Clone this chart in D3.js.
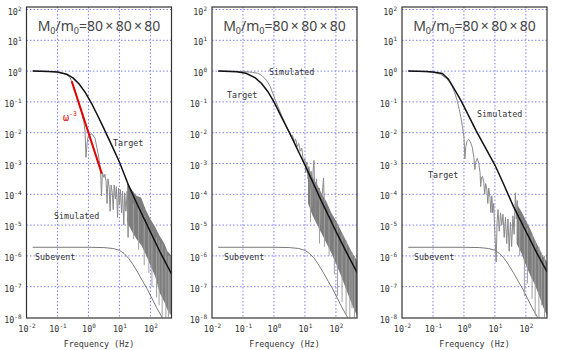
<!DOCTYPE html>
<html>
<head>
<script src="https://d3js.org/d3.v7.min.js"></script>
<style>
  body { margin: 0; background: #fff; }
  svg { display: block; }
  .lbl { font-family: "DejaVu Sans Mono", monospace; font-size: 8.4px; fill: #333; }
  .grid line { stroke: #7f7fff; stroke-dasharray: 1.5,2; stroke-width: 1; }
</style>
</head>
<body>
<svg id="chart" width="567" height="350"></svg>
<script>
// every reading below is in decades: [log10 frequency (Hz), log10 amplitude]
const xTickExps = [-2, -1, 0, 1, 2];
const yTickExps = [2, 1, 0, -1, -2, -3, -4, -5, -6, -7, -8];
const curveNames = ["Target", "Simulated", "Subevent"];
const xTitle = "Frequency (Hz)";

// subevent spectrum, same in all three panels
const subevent = [[-1.8,-5.72],[-1,-5.72],[0,-5.72],[0.5,-5.73],[0.8,-5.76],[1.0,-5.82],[1.15,-5.92],
  [1.3,-6.08],[1.45,-6.3],[1.6,-6.55],[1.75,-6.82],[1.9,-7.08],[2.05,-7.38],[2.2,-7.68],[2.38,-8.0]];

// panel 1
const target1 = [[-1.8,0],[-1.3,-0.01],[-1.0,-0.03],[-0.7,-0.1],[-0.5,-0.22],[-0.3,-0.42],[-0.1,-0.7],
  [0.1,-1.05],[0.3,-1.45],[0.5,-1.87],[0.7,-2.3],[1.0,-2.95],[1.3,-3.72],[1.6,-4.38],[2.0,-5.22],[2.3,-5.85],[2.69,-6.6]];
const sim1 = [[-1.8,0],[-1.3,-0.01],[-1.0,-0.03],[-0.75,-0.09],[-0.6,-0.2],[-0.5,-0.42],[-0.35,-0.9],[-0.22,-1.35],
  [-0.15,-1.65],[-0.11,-1.95],[-0.08,-2.8],[-0.04,-2.3],[-0.01,-2.12],[0.1,-2.03],[0.21,-2.18],[0.32,-2.72],[0.39,-3.2],
  [0.42,-4.05],[0.45,-3.3],[0.5,-3.45],[0.53,-3.35],[0.57,-3.6],[0.6,-4.3],[0.63,-3.5],[0.67,-3.8],[0.7,-4.55],[0.73,-3.7],
  [0.77,-3.95],[0.8,-4.5],[0.83,-3.7],[0.87,-4.15],[0.9,-3.75],[0.94,-4.75],[0.97,-3.8],[1.0,-4.35],[1.03,-3.85],
  [1.07,-4.6],[1.1,-3.9],[1.14,-5.0],[1.17,-3.95],[1.21,-4.55],[1.25,-3.9],[1.28,-5.4],[1.3,-4.2]];
const band1 = [[1.25,-4.9,-3.65],[1.4,-5.2,-3.85],[1.55,-5.45,-4.05],[1.7,-5.65,-4.1],[1.85,-5.95,-4.5],[2.0,-6.3,-4.8],
  [2.15,-6.65,-5.05],[2.3,-7.2,-5.35],[2.45,-7.5,-5.6],[2.55,-7.75,-5.85],[2.69,-7.95,-6.0]];
const spikes1 = [[1.45,-4.3,-5.45],[1.62,-4.4,-5.8],[1.8,-4.7,-6.3],[1.95,-5.0,-6.55],[2.05,-5.2,-7.0],[2.2,-5.4,-7.35],
  [2.28,-5.5,-7.6],[2.38,-5.6,-8.0],[2.5,-5.8,-8.0],[2.58,-6.0,-8.0],[2.63,-6.0,-7.9]];
const omega3 = [[-0.54,-0.33],[0.43,-3.33]];

// panel 2
const target2 = [[-1.8,0],[-1.2,-0.02],[-0.9,-0.07],[-0.6,-0.22],[-0.4,-0.4],[-0.2,-0.66],[0,-1.0],[0.25,-1.5],
  [0.5,-2.0],[1.0,-3.05],[1.5,-4.15],[2.0,-5.2],[2.35,-5.9],[2.69,-6.55]];
const sim2 = [[-1.8,0],[-1.2,-0.01],[-0.9,-0.02],[-0.7,-0.04],[-0.52,-0.07],[-0.38,-0.15],[-0.24,-0.3],[-0.12,-0.5],
  [-0.04,-0.72],[0.05,-0.95],[0.25,-1.45],[0.4,-1.8],[0.5,-2.0],[0.55,-2.12],[0.6,-2.08],[0.65,-2.3],[0.7,-2.2],
  [0.75,-2.45],[0.8,-2.35],[0.85,-2.6],[0.9,-2.5],[0.95,-2.95],[1.0,-2.85],[1.03,-3.3],[1.06,-2.95],[1.1,-3.5],
  [1.13,-3.1],[1.17,-3.85],[1.2,-3.25],[1.23,-4.4],[1.26,-3.3],[1.29,-2.9],[1.31,-3.6],[1.34,-4.8],[1.37,-3.5],
  [1.42,-4.2],[1.47,-3.8],[1.52,-5.0],[1.56,-4.0],[1.6,-3.47],[1.63,-4.4]];
const band2 = [[1.1,-4.3,-3.1],[1.25,-4.7,-3.45],[1.4,-5.0,-3.7],[1.55,-5.3,-4.0],[1.7,-5.6,-4.25],[1.85,-5.9,-4.6],
  [2.0,-6.25,-4.85],[2.15,-6.6,-5.15],[2.3,-7.0,-5.45],[2.45,-7.4,-5.75],[2.55,-7.65,-5.95],[2.69,-7.95,-6.15]];
const spikes2 = [[1.18,-3.5,-4.9],[1.47,-4.0,-5.6],[1.63,-4.3,-5.7],[1.78,-4.6,-6.0],[1.95,-4.9,-6.6],[2.05,-5.0,-7.3],
  [2.2,-5.3,-7.5],[2.33,-5.5,-7.9],[2.45,-5.8,-8.0],[2.52,-5.9,-7.7],[2.6,-6.0,-8.0]];

// panel 3
const target3 = [[-1.8,0],[-1.2,-0.01],[-1.0,-0.03],[-0.7,-0.08],[-0.5,-0.26],[-0.3,-0.6],[-0.1,-0.95],[0.1,-1.35],
  [0.4,-1.95],[0.7,-2.5],[1.0,-3.05],[1.25,-3.6],[1.6,-4.4],[2.0,-5.2],[2.35,-5.9],[2.69,-6.53]];
const sim3 = [[-1.8,0],[-1.2,-0.02],[-1.0,-0.04],[-0.75,-0.1],[-0.55,-0.25],[-0.45,-0.38],[-0.38,-0.5],[-0.3,-0.7],
  [-0.22,-0.95],[-0.15,-1.25],[-0.1,-1.5],[-0.05,-1.8],[0.0,-2.13],[0.03,-2.85],[0.06,-2.45],[0.1,-2.28],[0.15,-2.22],
  [0.21,-2.3],[0.27,-2.48],[0.32,-2.8],[0.35,-3.2],[0.38,-2.95],[0.43,-2.83],[0.48,-3.0],[0.52,-3.3],[0.54,-3.75],
  [0.57,-3.45],[0.6,-3.42],[0.64,-3.6],[0.67,-4.0],[0.7,-3.65],[0.74,-3.85],[0.77,-4.3],[0.8,-3.8],[0.84,-4.1],
  [0.87,-4.6],[0.9,-4.05],[0.93,-4.6],[0.96,-4.3],[1.0,-5.3],[1.04,-6.2],[1.07,-4.9],[1.1,-4.5],[1.14,-5.2],
  [1.18,-4.6],[1.22,-5.0],[1.26,-4.65],[1.3,-5.4],[1.34,-4.75],[1.38,-5.6],[1.42,-4.8],[1.46,-5.85],[1.5,-4.9],
  [1.54,-5.7],[1.58,-4.7],[1.62,-5.3],[1.66,-3.95],[1.69,-4.8],[1.72,-4.2],[1.76,-5.4]];
const band3 = [[1.7,-5.6,-4.3],[1.85,-5.9,-4.55],[2.0,-6.3,-4.85],[2.15,-6.65,-5.15],[2.3,-6.95,-5.5],
  [2.45,-7.35,-5.8],[2.55,-7.65,-6.0],[2.69,-7.95,-6.2]];
const spikes3 = [[1.8,-4.7,-6.0],[1.95,-5.0,-7.3],[2.05,-5.1,-6.9],[2.2,-5.3,-7.4],[2.3,-5.5,-7.95],[2.42,-5.7,-8.0],
  [2.5,-5.9,-7.6],[2.6,-6.0,-8.0]];

// layout
const plotW = 145, yTop = 9.5, yBot = 317.5, frameTop = 7, frameBot = 318;
const panels = [
  { left: 26.5, target: target1, sim: sim1, band: band1, spikes: spikes1, red: omega3,
    labelXY: { Target: [113, 146], Simulated: [54, 219], Subevent: [35, 260] }, redXY: [63, 121] },
  { left: 212, target: target2, sim: sim2, band: band2, spikes: spikes2,
    labelXY: { Target: [227, 98], Simulated: [269, 75], Subevent: [224, 260] } },
  { left: 402, target: target3, sim: sim3, band: band3, spikes: spikes3,
    labelXY: { Target: [428, 178], Simulated: [477, 117], Subevent: [414, 260] } }
];

const svg = d3.select("#chart");
const p10 = v => Math.pow(10, v);

function supLabel(text, exp) {
  text.text(null);
  text.append("tspan").text("10");
  text.append("tspan").attr("dy", -4).attr("font-size", "6px").text(exp);
}

panels.forEach((p, i) => {
  const x = d3.scaleLog().domain([0.01, 480]).range([p.left, p.left + plotW]);
  const y = d3.scaleLog().domain([1e-8, 1e2]).range([yBot, yTop]);
  const g = svg.append("g");

  g.append("clipPath").attr("id", "clip" + i)
    .append("rect").attr("x", p.left).attr("y", frameTop).attr("width", plotW).attr("height", frameBot - frameTop);

  // grid
  const grid = g.append("g").attr("class", "grid");
  grid.selectAll(".gx").data(xTickExps.slice(1)).enter().append("line")
    .attr("x1", d => x(p10(d))).attr("x2", d => x(p10(d)))
    .attr("y1", frameTop).attr("y2", frameBot);
  grid.selectAll(".gy").data(yTickExps.slice(0, -1)).enter().append("line")
    .attr("x1", p.left).attr("x2", p.left + plotW)
    .attr("y1", d => y(p10(d))).attr("y2", d => y(p10(d)));

  const plot = g.append("g").attr("clip-path", `url(#clip${i})`);
  const line = d3.line().x(d => x(p10(d[0]))).y(d => y(p10(d[1])));
  const area = d3.area().x(d => x(p10(d[0]))).y0(d => y(p10(d[1]))).y1(d => y(p10(d[2])));

  plot.append("path").datum(subevent).attr("d", line)
    .attr("fill", "none").attr("stroke", "#6a6a6a").attr("stroke-width", 0.9);

  plot.append("path").datum(p.band).attr("d", area).attr("fill", "#7d7d7d");
  plot.selectAll(".spike").data(p.spikes).enter().append("line")
    .attr("x1", d => x(p10(d[0]))).attr("x2", d => x(p10(d[0])))
    .attr("y1", d => y(p10(d[1]))).attr("y2", d => y(p10(d[2])))
    .attr("stroke", "#a0a0a0").attr("stroke-width", 1);
  plot.append("path").datum(p.sim).attr("d", line)
    .attr("fill", "none").attr("stroke", "#8a8a8a").attr("stroke-width", 1);

  plot.append("path").datum(p.target).attr("d", line)
    .attr("fill", "none").attr("stroke", "#111").attr("stroke-width", 1.5);

  if (p.red) {
    plot.append("path").datum(p.red).attr("d", line)
      .attr("fill", "none").attr("stroke", "#e00000").attr("stroke-width", 2);
    const t = g.append("text").attr("class", "lbl").attr("x", p.redXY[0]).attr("y", p.redXY[1])
      .style("fill", "#e00000");
    t.append("tspan").attr("font-size", "10px").text("ω");
    t.append("tspan").attr("dy", -5).attr("font-size", "6.5px").text("-3");
  }

  curveNames.forEach(name => {
    g.append("text").attr("class", "lbl")
      .attr("x", p.labelXY[name][0]).attr("y", p.labelXY[name][1]).text(name);
  });

  // frame
  g.append("rect").attr("x", p.left).attr("y", frameTop).attr("width", plotW).attr("height", frameBot - frameTop)
    .attr("fill", "none").attr("stroke", "#333").attr("stroke-width", 1.2);

  // axes
  const gy = g.append("g").attr("transform", `translate(${p.left},0)`)
    .call(d3.axisLeft(y).tickValues(yTickExps.map(p10)).tickSize(0).tickPadding(5).tickFormat(""));
  gy.select(".domain").remove();
  gy.selectAll(".tick text")
    .attr("font-family", "DejaVu Sans Mono, monospace").attr("font-size", "8.4px").attr("fill", "#333")
    .attr("dy", "0.55em")
    .each(function (d) { supLabel(d3.select(this), Math.round(Math.log10(d))); });

  const gx = g.append("g").attr("transform", `translate(0,${frameBot})`)
    .call(d3.axisBottom(x).tickValues(xTickExps.map(p10)).tickSize(0).tickPadding(8).tickFormat(""));
  gx.select(".domain").remove();
  gx.selectAll(".tick text")
    .attr("font-family", "DejaVu Sans Mono, monospace").attr("font-size", "8.4px").attr("fill", "#333")
    .each(function (d) { supLabel(d3.select(this), Math.round(Math.log10(d))); });

  g.append("text").attr("class", "lbl").attr("text-anchor", "middle")
    .attr("x", p.left + plotW / 2).attr("y", 347).text(xTitle);

  // title
  const title = g.append("text").attr("text-anchor", "middle")
    .attr("x", p.left + plotW / 2).attr("y", 31)
    .attr("font-family", "Noto Sans, sans-serif").attr("font-size", "14px").attr("fill", "#444");
  title.append("tspan").text("M");
  title.append("tspan").attr("dy", 3).attr("font-size", "9px").text("0");
  title.append("tspan").attr("dy", -3).text("/m");
  title.append("tspan").attr("dy", 3).attr("font-size", "9px").text("0");
  title.append("tspan").attr("dy", -3).text("=80\u2009×\u200980\u2009×\u200980");
});
</script>
</body>
</html>
